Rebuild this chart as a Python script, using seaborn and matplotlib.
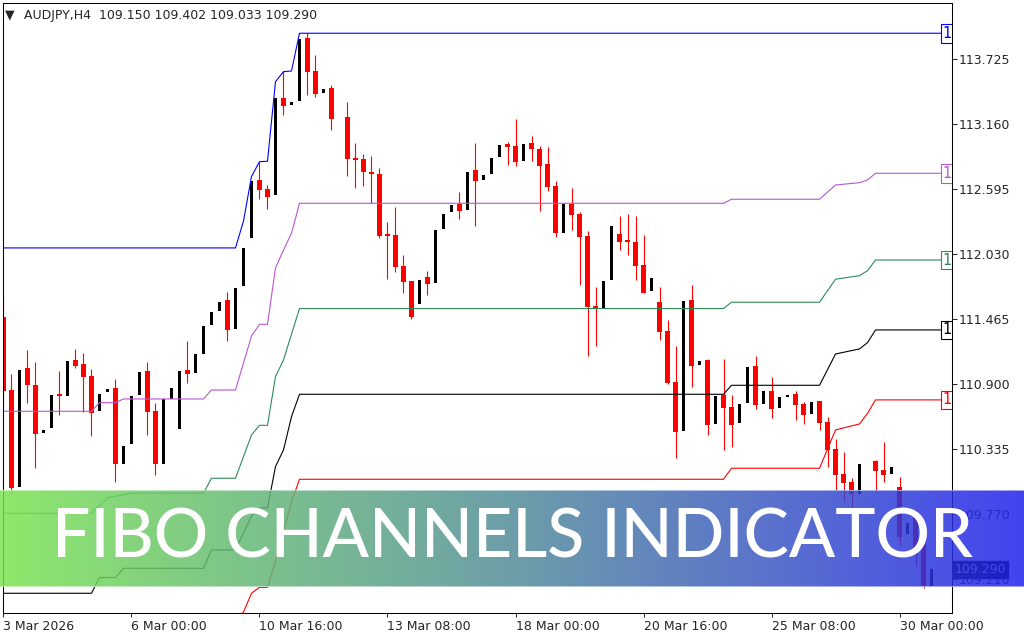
import numpy as np
import pandas as pd
import matplotlib
matplotlib.use("Agg")
import matplotlib.pyplot as plt
from matplotlib.colors import LinearSegmentedColormap, to_rgb
import seaborn as sns

sns.set_style("white")
plt.rcParams['font.family'] = ['DejaVu Sans']

# AUDJPY H4 candles, bar 0 = 3 Mar 2026 (NaN = no bar drawn)
nan = np.nan
opens = [111.488, 110.850, 110.010, 111.042, 110.894, 110.477, 110.523, 110.816, 110.798, 111.111,
         111.076, 110.972, 110.671, 110.836, 110.868, 110.210, 110.381, 110.807, 111.018, 110.668,
         110.207, 110.770, 110.512, 111.024, 111.001, 111.163, 111.415, 111.537, 111.633, 111.381,
         111.754, 112.172, 112.676, 112.598, 112.548, 113.389, 113.330, 113.366, 113.910, 113.626,
         113.435, 113.476, nan, 113.223, 112.867, 112.861, 112.747, 112.730, 112.198, 112.198,
         111.928, 111.798, 111.601, 111.833, 111.783, 112.253, 112.400, 112.470, 112.418, 112.763,
         112.678, 112.730, 112.878, 112.989, 112.972, 112.844, 112.998, 112.945, 112.815, 112.624,
         112.218, 112.470, 112.380, 112.189, 111.571, 111.566, 111.809, 112.206, 112.141, 112.137,
         111.937, 111.714, 111.615, 111.363, 110.920, 110.497, 111.635, 111.070, 111.111, 110.557,
         110.807, 110.703, 110.566, 110.740, 111.059, 110.726, 110.842, 110.697, 110.792, 110.816,
         110.731, 110.644, 110.755, 110.572, 110.340, 110.120, 110.053, 109.949, nan, 110.233,
         110.155, 110.122, 110.010, 109.596, 109.798, 109.547, 109.150]
highs = [111.644, 110.990, 111.024, 111.198, 111.094, 110.503, 110.807, 111.018, 111.105, 111.209,
         111.175, 111.030, 110.816, 110.862, 110.949, 110.364, 110.798, 111.010, 111.097, 110.735,
         110.770, 110.868, 111.018, 111.276, 111.163, 111.407, 111.528, 111.615, 111.702, 111.740,
         112.082, 112.670, 112.835, 112.632, 113.391, 113.626, 113.354, 113.899, 113.951, 113.765,
         113.467, 113.502, nan, 113.357, 112.999, 112.902, 112.885, 112.780, 112.311, 112.441,
         112.024, 111.798, 111.807, 111.885, 112.241, 112.380, 112.459, 112.571, 112.748, 113.000,
         112.719, 112.867, 112.980, 113.006, 113.206, 112.989, 113.058, 112.972, 112.963, 112.667,
         112.467, 112.606, 112.398, 112.233, 111.746, 111.798, 112.279, 112.363, 112.380, 112.363,
         112.198, 111.824, 111.743, 111.459, 111.233, 111.627, 111.760, 111.102, 111.122, 110.798,
         111.120, 110.807, 110.729, 111.050, 111.149, 110.842, 110.963, 110.790, 110.807, 110.844,
         110.746, 110.746, 110.755, 110.616, 110.424, 110.311, 110.085, 110.207, nan, 110.244,
         110.398, 110.181, 110.094, 109.697, 109.807, 109.560, 109.402]
lows = [110.711, 109.955, 110.010, 110.740, 110.175, 110.477, 110.523, 110.636, 110.798, 111.042,
        110.662, 110.451, 110.671, 110.836, 110.053, 110.210, 110.381, 110.807, 110.460, 110.112,
        110.207, 110.770, 110.512, 110.909, 111.001, 111.163, 111.415, 111.537, 111.276, 111.381,
        111.754, 112.172, 112.511, 112.424, 112.548, 113.241, 113.330, 113.366, 113.417, 113.400,
        113.435, 113.113, nan, 112.713, 112.609, 112.626, 112.473, 112.168, 111.818, 111.879,
        111.696, 111.471, 111.601, 111.676, 111.783, 112.253, 112.400, 112.339, 112.418, 112.279,
        112.678, 112.730, 112.878, 112.809, 112.800, 112.844, 112.844, 112.409, 112.583, 112.183,
        112.218, 112.237, 111.766, 111.149, 111.235, 111.566, 111.809, 112.070, 112.024, 111.807,
        111.694, 111.714, 111.288, 110.902, 110.262, 110.497, 110.879, 111.070, 110.462, 110.557,
        110.330, 110.356, 110.566, 110.740, 110.688, 110.726, 110.609, 110.697, 110.792, 110.592,
        110.557, 110.644, 110.505, 110.184, 109.984, 109.879, 109.610, 109.949, nan, 109.966,
        110.053, 110.122, 109.503, 109.596, 109.329, 109.127, 109.033]
closes = [110.844, 109.998, 111.024, 110.894, 110.471, 110.503, 110.807, 110.798, 111.105, 111.059,
          110.963, 110.653, 110.816, 110.862, 110.210, 110.364, 110.798, 111.010, 110.662, 110.207,
          110.770, 110.868, 111.018, 110.992, 111.163, 111.407, 111.528, 111.615, 111.372, 111.740,
          112.082, 112.670, 112.589, 112.531, 113.391, 113.319, 113.354, 113.899, 113.617, 113.426,
          113.467, 113.209, nan, 112.855, 112.852, 112.742, 112.724, 112.192, 112.192, 111.922,
          111.792, 111.488, 111.807, 111.775, 112.241, 112.380, 112.459, 112.409, 112.748, 112.670,
          112.719, 112.867, 112.980, 112.966, 112.835, 112.989, 112.948, 112.800, 112.618, 112.218,
          112.467, 112.374, 112.183, 111.574, 111.566, 111.798, 112.279, 112.140, 112.137, 111.931,
          111.696, 111.824, 111.357, 110.911, 110.488, 111.627, 111.062, 111.102, 110.549, 110.798,
          110.697, 110.549, 110.729, 111.050, 110.716, 110.842, 110.688, 110.790, 110.807, 110.723,
          110.636, 110.746, 110.566, 110.331, 110.113, 110.044, 109.949, 110.207, nan, 110.149,
          110.113, 110.181, 109.575, 109.697, 109.416, 109.150, 109.290]

tick_bars = [0, 16, 32, 48, 64, 80, 96, 112]
tick_labels = ["3 Mar 2026", "6 Mar 00:00", "10 Mar 16:00", "13 Mar 08:00",
               "18 Mar 00:00", "20 Mar 16:00", "25 Mar 08:00", "30 Mar 00:00"]
price_ticks = [113.725, 113.160, 112.595, 112.030, 111.465, 110.900, 110.335, 109.770, 109.210]

# fibo channel lines, break points (bar, price)
blue_bars = [0, 29, 30, 31, 32, 33, 34, 35, 36, 37, 117.3]
blue_vals = [112.085, 112.085, 112.319, 112.706, 112.835, 112.838, 113.530, 113.617, 113.623, 113.951, 113.951]
purple_bars = [0, 11, 12, 14, 15, 25, 26, 29, 31, 32, 33, 34, 35, 36, 37, 90, 91, 102, 104, 107, 108, 109, 117.3]
purple_vals = [110.665, 110.665, 110.740, 110.740, 110.772, 110.772, 110.850, 110.850, 111.320, 111.421, 111.421,
               111.911, 112.067, 112.212, 112.473, 112.473, 112.508, 112.508, 112.632, 112.652, 112.676, 112.734, 112.734]
green_bars = [0, 11, 13, 16, 25, 26, 29, 31, 32, 33, 34, 35, 37, 90, 91, 102, 104, 107, 108, 109, 117.3]
green_vals = [109.778, 109.778, 109.912, 109.953, 109.953, 110.083, 110.083, 110.459, 110.543, 110.543, 110.966,
              111.111, 111.558, 111.558, 111.613, 111.613, 111.813, 111.844, 111.887, 111.980, 111.980]
black_bars = [0, 11, 12, 14, 15, 25, 26, 29, 31, 32, 33, 34, 35, 36, 37, 90, 91, 102, 104, 107, 108, 109, 117.3]
black_vals = [109.083, 109.083, 109.220, 109.220, 109.300, 109.300, 109.460, 109.460, 109.755, 109.825, 109.825,
              110.184, 110.329, 110.618, 110.813, 110.813, 110.891, 110.891, 111.163, 111.207, 111.262, 111.372, 111.372]
red_bars = [29, 30, 31, 32, 33, 34, 35, 36, 37, 90, 91, 102, 104, 107, 108, 109, 117.3]
red_vals = [108.860, 108.920, 109.083, 109.135, 109.135, 109.363, 109.625, 109.877, 110.074, 110.074, 110.170,
            110.170, 110.503, 110.555, 110.648, 110.764, 110.764]

df = pd.DataFrame({'o': opens, 'h': highs, 'l': lows, 'c': closes})
df['bar'] = np.arange(len(df))
df = df.dropna()
up = df[df.c >= df.o]
down = df[df.c < df.o]

fig = plt.figure(figsize=(10.24, 6.4), dpi=100)
ax = fig.add_axes([3 / 1024, 26.7 / 640, 949 / 1024, 610.3 / 640])

# candles: red = bearish with wicks, black = bullish (narrow body)
ax.vlines(down.bar, down.l, down.h, color='#ff0000', lw=0.8)
ax.bar(down.bar, (down.o - down.c).clip(lower=0.017), bottom=down.c, width=0.62, color='#ff0000', linewidth=0)
ax.bar(up.bar, (up.c - up.o).clip(lower=0.017), bottom=up.o, width=0.36, color='black', linewidth=0)

channels = [(blue_bars, blue_vals, '#0000ff'), (purple_bars, purple_vals, '#ba55d3'),
            (green_bars, green_vals, '#2e8b57'), (black_bars, black_vals, '#000000'),
            (red_bars, red_vals, '#ff0000')]
for bars, vals, col in channels:
    sns.lineplot(x=bars, y=vals, color=col, lw=0.8, ax=ax, estimator=None, sort=False)
    ax.text(117.35, vals[-1], "1", color=col, fontsize=10.5, ha='left', va='center', clip_on=True,
            bbox=dict(boxstyle='square,pad=0.12', fc='white', ec=col, lw=0.8))

ax.set_xlim(-0.06, 118.56)
ax.set_ylim(108.909, 114.214)
ax.set_xlabel('')
ax.set_ylabel('')
ax.yaxis.tick_right()
ax.set_yticks(price_ticks)
ax.set_yticklabels([f"{v:.3f}" for v in price_ticks])
ax.set_xticks(tick_bars)
ax.set_xticklabels(tick_labels, ha='left')
ax.tick_params(axis='y', right=True, direction='out', length=3.6, width=0.75, pad=1.5, labelsize=9)
ax.tick_params(axis='x', bottom=True, direction='out', length=2.6, width=0.75, pad=2.5, labelsize=9)
for s in ax.spines.values():
    s.set_color('black')
    s.set_linewidth(0.75)

# current price box on the price scale (it sits over the 109.210 label, as in MT4)
ax.text(1.003, closes[-1], f"{closes[-1]:.3f}", transform=ax.get_yaxis_transform(), color='white',
        fontsize=9, ha='left', va='center', clip_on=False,
        bbox=dict(boxstyle='square,pad=0.15', fc='black', ec='black'))

fig.text(5 / 1024, 1 - 18 / 640, "▼", fontsize=9, va='baseline')
fig.text(24 / 1024, 1 - 19 / 640,
         f"AUDJPY,H4  {opens[-1]:.3f} {highs[-1]:.3f} {lows[-1]:.3f} {closes[-1]:.3f}",
         fontsize=9, va='baseline')

# gradient banner over the bottom of the chart
alpha = 0.85
stops = ['#8ee86a', '#7cc28c', '#6c9ea8', '#5a72cc', '#4343f0']
stops = [np.clip((np.array(to_rgb(c)) - (1 - alpha)) / alpha, 0, 1) for c in stops]
cmap = LinearSegmentedColormap.from_list('banner', stops)
bax = fig.add_axes([0, 53 / 640, 1, 97.5 / 640])
bax.imshow(np.linspace(0, 1, 512).reshape(1, -1), aspect='auto', cmap=cmap, alpha=alpha, extent=(0, 1, 0, 1))
bax.axhline(0.995, color='white', lw=1.2, alpha=0.6)
bax.axhline(0.005, color='white', lw=1.2, alpha=0.6)
bax.axis('off')
bax.text(0.5, 30 / 97.5, "FIBO CHANNELS INDICATOR", color='white', fontsize=49,
         family=['Lato', 'DejaVu Sans'], fontweight='medium', ha='center', va='baseline')

fig.savefig("out.png", dpi=100)
